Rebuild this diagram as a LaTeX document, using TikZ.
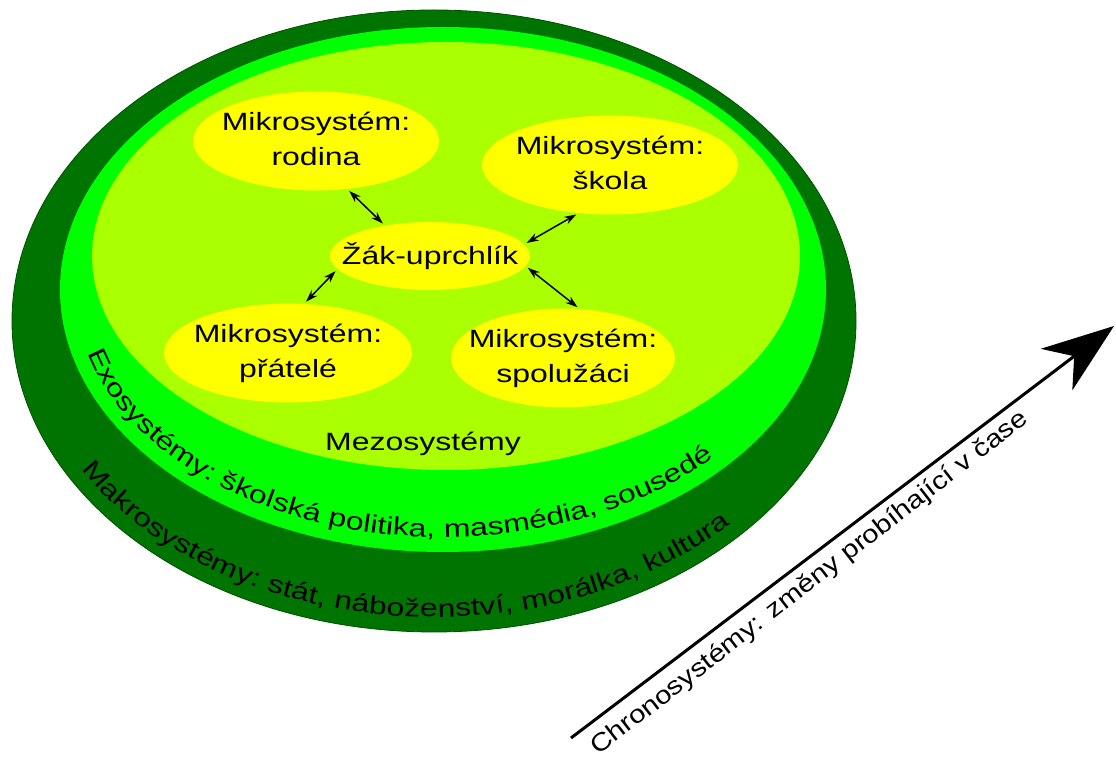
\documentclass[tikz,border=0pt]{standalone}
\usepackage{fontspec}
\setmainfont{Liberation Sans}[FakeStretch=1.28]
\newfontfamily\chronofont{Liberation Sans}[FakeStretch=1.17]
\usetikzlibrary{shapes.geometric,arrows.meta,decorations.text}
\definecolor{darkg}{RGB}{0,116,0}
\definecolor{darkedge}{RGB}{0,80,0}
\definecolor{brightg}{RGB}{0,255,0}
\definecolor{yellowg}{RGB}{170,255,0}
\definecolor{yel}{RGB}{255,255,0}
\newcommand\dfont{\fontsize{25}{35}\selectfont}
\newcommand\twoline[2]{\makebox[0pt]{\begin{tabular}{@{}c@{}}#1\\#2\end{tabular}}}
\begin{document}
\begin{tikzpicture}[x=1pt,y=1pt,
  every node/.style={font=\dfont, text=black},
  micro/.style={ellipse, fill=yel, inner sep=0pt, outer sep=0pt},
  dbl/.style={{Stealth[length=12pt,width=8pt]}-{Stealth[length=12pt,width=8pt]}, line width=1.5pt, shorten <=3pt, shorten >=3pt},
  chrono/.style={line width=3pt, -{Stealth[length=72pt,width=52pt,inset=22pt]}},
  curved/.style={decorate, decoration={text along path, text align=left, text={#1}}}]
\useasboundingbox (0,0) rectangle (1116,760);
% nested systems
\fill[darkg, draw=darkedge, line width=0.8pt] (434,439) ellipse [x radius=422pt, y radius=311pt];
\fill[brightg] (443,470.5) ellipse [x radius=383pt, y radius=262.5pt];
\fill[yellowg] (446,504) ellipse [x radius=354pt, y radius=214pt];
% microsystems
\node[micro, minimum width=246pt, minimum height=92pt] (rodina) at (316,619) {\twoline{Mikrosystém:}{rodina}};
\node[micro, minimum width=256pt, minimum height=86pt] (skola) at (610,595) {\twoline{Mikrosystém:}{škola}};
\node[micro, minimum width=200pt, minimum height=68pt] (zak) at (430,504) {\makebox[0pt]{Žák-uprchlík}};
\node[micro, minimum width=248pt, minimum height=92pt] (pratele) at (288,407) {\twoline{Mikrosystém:}{přátelé}};
\node[micro, minimum width=224pt, minimum height=94pt] (spoluzaci) at (563,402) {\twoline{Mikrosystém:}{spolužáci}};
\node[anchor=base] (mezo) at (423,309) {Mezosystémy};
% connectors
\draw[dbl] (zak.146) -- (rodina.-57);
\draw[dbl] (zak.7) -- (skola.-123);
\draw[dbl] (zak.188) -- (pratele.72);
\draw[dbl] (zak.-6) -- (spoluzaci.71);
% curved labels
\path[curved={|\dfont|Exosystémy: školská politika, masmédia, sousedé}]
  (443,470.5) ++(195:368pt and 247.5pt) arc[start angle=195, end angle=340, x radius=368pt, y radius=247.5pt];
\path[curved={|\dfont|Makrosystémy: stát, náboženství, morálka, kultura}]
  (434,439) ++(210:407pt and 296pt) arc[start angle=210, end angle=340, x radius=407pt, y radius=296pt];
% chronosystem
\coordinate (cs) at (571,22);
\coordinate (ce) at (1114,434);
\draw[chrono] (cs) -- (ce);
\node[rotate=37.8, anchor=base west, inner sep=0pt, font=\chronofont\fontsize{25}{30}\selectfont] (chronotext) at (598,4) {Chronosystémy: změny probíhající v čase};
\end{tikzpicture}
\end{document}
